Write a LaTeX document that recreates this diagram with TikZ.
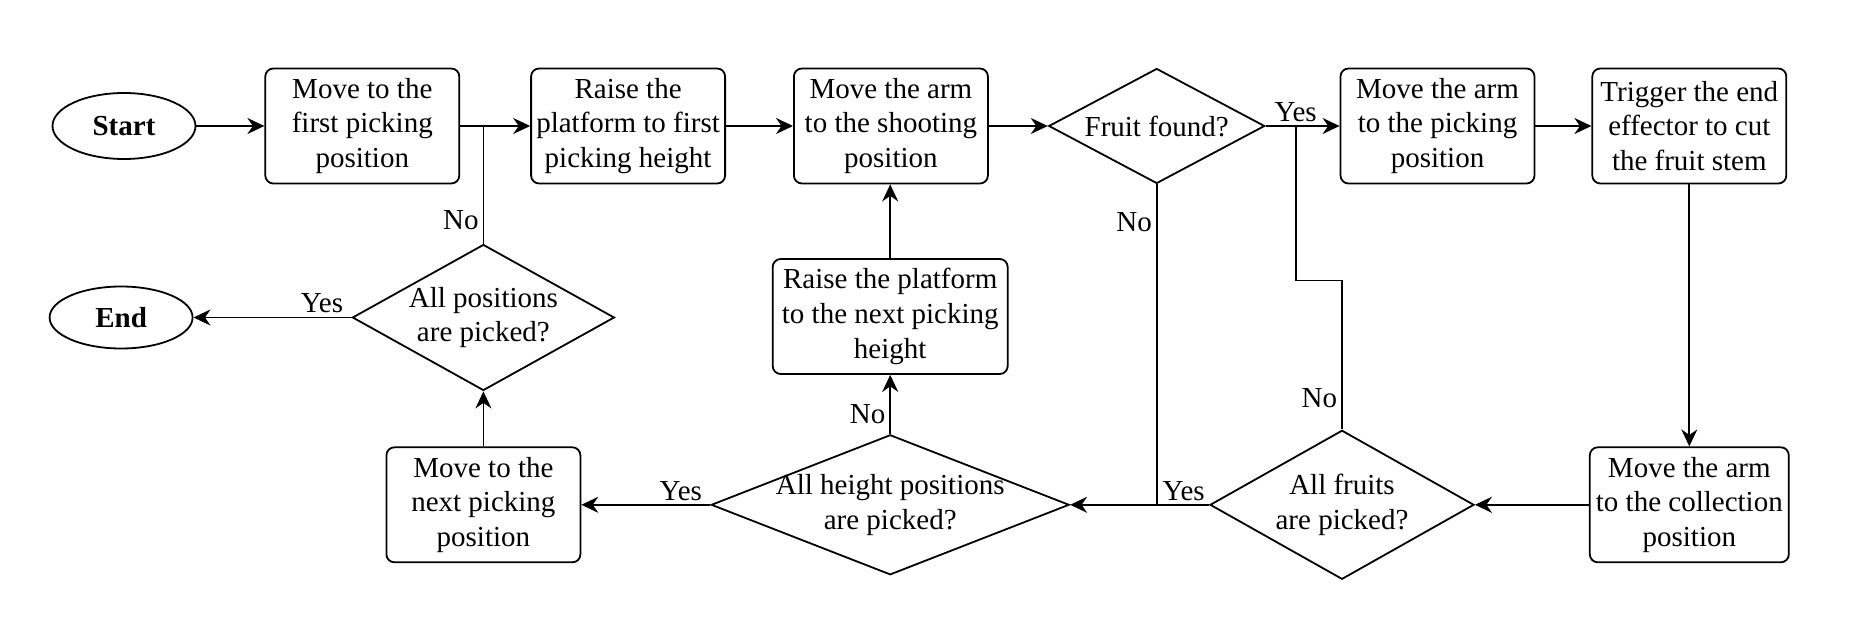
\documentclass[tikz,border=0pt]{standalone}
\usepackage{fontspec}
\setmainfont{Liberation Serif}
\usetikzlibrary{arrows.meta,positioning,shapes.geometric}

\begin{document}
\begin{tikzpicture}[
    font=\fontsize{14.5}{17.3}\selectfont,
    stepbox/.style={draw, line width=0.9pt, rounded corners=4pt, align=center, minimum width=97pt, minimum height=57.5pt, inner sep=2pt},
    terminal/.style={draw, line width=0.9pt, ellipse, minimum width=71.5pt, minimum height=33pt, font=\fontsize{14.5}{17.3}\selectfont\bfseries},
    decision/.style={draw, line width=0.9pt, diamond, align=center, inner sep=0pt},
    flow/.style={-{Stealth[length=8.5pt,width=8pt]}, line width=0.9pt},
    link/.style={line width=0.9pt},
    answer/.style={inner sep=2pt}
  ]
    \useasboundingbox (0,0) rectangle (936pt,-310pt);

    % top row
    \node[terminal] (start) at (62pt,-63pt) {Start};
    \node[stepbox,right=34pt of start] (firstpos) {Move to the\\first picking\\position};
    \node[stepbox,right=35pt of firstpos] (firstheight) {Raise the\\platform to first\\picking height};
    \node[stepbox,right=33.5pt of firstheight] (shootpos) {Move the arm\\to the shooting\\position};
    \node[decision,aspect=1.88,minimum width=108pt,minimum height=57.5pt,right=29.5pt of shootpos] (found) {Fruit found?};
    \node[stepbox,right=37pt of found] (pickpos) {Move the arm\\to the picking\\position};
    \node[stepbox,right=28pt of pickpos] (cut) {Trigger the end\\effector to cut\\the fruit stem};

    % bottom row, right to left
    \node[stepbox,minimum width=99.5pt,below=131pt of cut] (collect) {Move the arm\\to the collection\\position};
    \node[decision,aspect=1.77,minimum width=132pt,minimum height=74.5pt,left=57pt of collect] (allfruits) {All fruits\\are picked?};
    \node[decision,aspect=2.56,minimum width=179pt,minimum height=70pt,inner ysep=-3pt,left=69.5pt of allfruits] (allheights) {All height positions\\are picked?};
    \node[stepbox,minimum width=117.5pt,above=29.5pt of allheights] (nextheight) {Raise the platform\\to the next picking\\height};
    \node[stepbox,left=64.5pt of allheights] (nextpos) {Move to the\\next picking\\position};
    \node[decision,aspect=1.79,minimum width=131pt,minimum height=73pt,above=27.5pt of nextpos] (allpos) {All positions\\are picked?};
    \node[terminal,minimum height=31pt,left=79pt of allpos] (end) {End};

    \coordinate (foundyes) at ([xshift=15pt]found.east);

    \draw[flow] (start) -- (firstpos);
    \draw[flow] (firstpos) -- (firstheight);
    \draw[flow] (firstheight) -- (shootpos);
    \draw[flow] (shootpos) -- (found);
    \draw[flow] (found) -- (pickpos);
    \draw[flow] (pickpos) -- (cut);
    \draw[flow] (cut) -- (collect);
    \draw[flow] (collect) -- (allfruits);
    \draw[flow] (allfruits) -- (allheights);
    \draw[flow] (allheights) -- node[answer,left,pos=.33]{No} (nextheight);
    \draw[flow] (nextheight.north) -- (nextheight.north |- shootpos.south);
    \draw[flow] (allheights) -- (nextpos);
    \draw[flow] (nextpos) -- (allpos);
    \draw[flow] (allpos) -- (end);

    % joining lines
    \draw[link] (allpos.north) -- node[answer,left,pos=.2]{No} (allpos.north |- firstpos.east);
    \draw[link] (found.south) -- node[answer,left,pos=.117]{No} (found.south |- allfruits.west);
    \draw[link] (allfruits.north) -- node[answer,left,pos=.21]{No} ++(0,74.5pt) -| (foundyes);

    \node[answer,above] (yesfound) at (foundyes) {Yes};
    \node[answer,above left] (yesfruits) at (allfruits.west) {Yes};
    \node[answer,above left,xshift=-2pt] (yesheights) at (allheights.west) {Yes};
    \node[answer,above left,xshift=-2pt] (yespos) at (allpos.west) {Yes};
\end{tikzpicture}
\end{document}
